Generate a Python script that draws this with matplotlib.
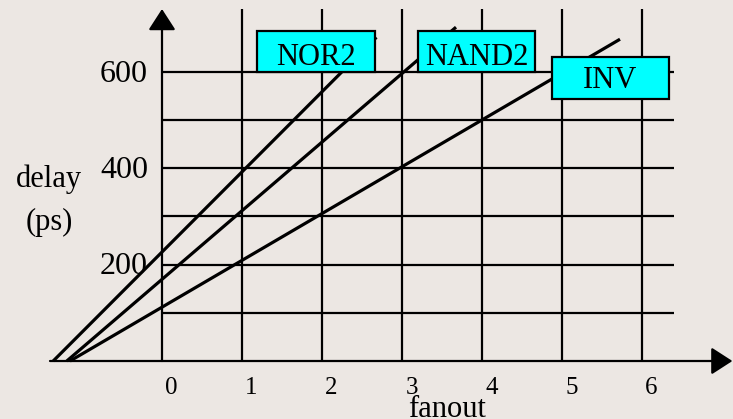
import matplotlib.pyplot as plt
from matplotlib.patches import Rectangle

# data
gates = ['NOR2', 'NAND2', 'INV']
fanout_pts = [[-1.36, 2.68], [-1.19, 3.675], [-1.15, 5.725]]
delay_pts = [[0, 672], [0, 693], [0, 668]]

xticks = [0, 1, 2, 3, 4, 5, 6]
yticks = [200, 400, 600]
ygrid = [100, 200, 300, 400, 500, 600]

bg = '#ece7e3'
font = ['Liberation Serif', 'DejaVu Serif']
plt.rcParams['font.family'] = font

fig = plt.figure(figsize=(7.33, 4.19), dpi=100, facecolor=bg)
ax = fig.add_axes([0, 0, 1, 1])
ax.set_facecolor(bg)
ax.set_xlim(-2.025, 7.1375)
ax.set_ylim(-120.4, 749.4)
ax.axis('off')

# grid
ax.hlines(ygrid, 0, 6.4, color='k', lw=1.6, zorder=1)
ax.vlines(xticks[1:], 0, 730.7, color='k', lw=1.6, zorder=1)

# axes with arrows
arr = dict(arrowstyle='-|>,head_length=0.65,head_width=0.42', color='k',
           lw=1.6, mutation_scale=20, shrinkA=0, shrinkB=0)
ax.annotate('', xy=(0, 730.7), xytext=(0, 0), arrowprops=arr, zorder=2)
ax.annotate('', xy=(7.13, 0), xytext=(-1.4, 0), arrowprops=arr, zorder=2)

# delay lines
for fx, dy in zip(fanout_pts, delay_pts):
    ax.plot(fx, dy, color='k', lw=2.3, solid_capstyle='butt', zorder=3)

# label boxes
boxes = {'NOR2': (1.1875, 600, 1.475, 85, 615),
         'NAND2': (3.2, 600, 1.4625, 85, 615),
         'INV': (4.875, 544, 1.4625, 87, 567)}
for g in gates:
    x0, y0, w, h, yb = boxes[g]
    ax.add_patch(Rectangle((x0, y0), w, h, facecolor='#00ffff',
                           edgecolor='k', lw=1.6, zorder=4))
    ax.text(x0 + w / 2, yb, g, fontsize=22, ha='center', va='baseline',
            zorder=5)

# tick labels
for t in xticks:
    ax.text(t + 0.12, -68.5, str(t), fontsize=18, ha='center', va='baseline')
for t in yticks:
    ax.text(-0.175, t - 20, str(t), fontsize=23, ha='right', va='baseline')

ax.text(3.56, -116, 'fanout', fontsize=22, ha='center', va='baseline')
ax.text(-1.41, 361, 'delay', fontsize=22, ha='center', va='baseline')
ax.text(-1.41, 272, '(ps)', fontsize=22, ha='center', va='baseline')

fig.savefig('out.png', dpi=100, facecolor=bg)
